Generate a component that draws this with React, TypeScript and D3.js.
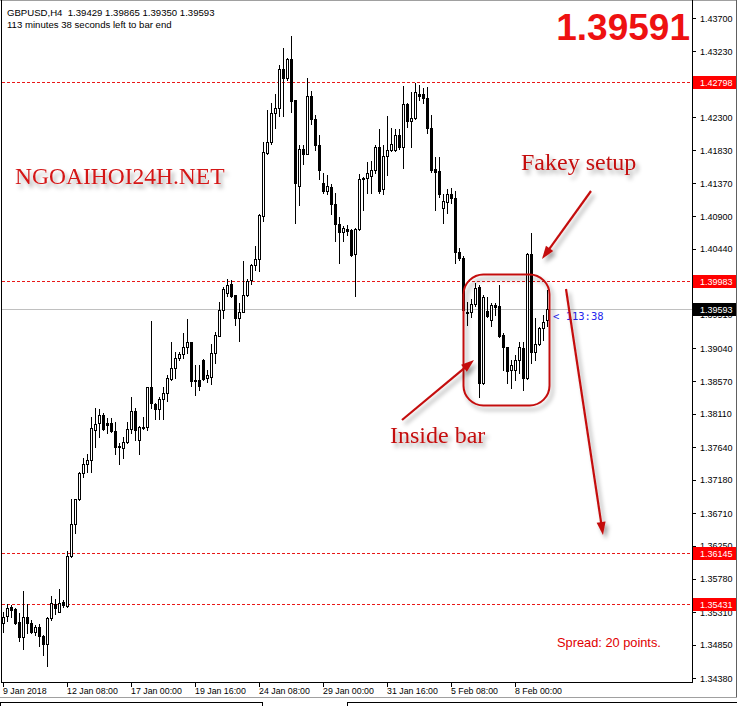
import React from 'react';
import * as d3 from 'd3';

const opens = [1.35162,1.35256,1.35383,1.35355,1.35167,1.34964,1.35238,1.35153,1.35035,1.35105,1.34978,1.34857,1.35224,1.35421,1.35317,1.35449,1.35401,1.36104,1.36551,1.36914,1.37272,1.37399,1.3746,1.37887,1.37977,1.38094,1.37986,1.37977,1.37869,1.37657,1.37624,1.37718,1.37892,1.38151,1.37742,1.37925,1.37925,1.38485,1.38249,1.38175,1.3832,1.38409,1.38604,1.38755,1.38896,1.38957,1.39051,1.39122,1.3859,1.3859,1.38872,1.38614,1.38636,1.38966,1.39215,1.39577,1.39823,1.39941,1.39791,1.3946,1.39545,1.39787,1.40002,1.40214,1.40298,1.40909,1.41799,1.41946,1.42355,1.42425,1.42977,1.42859,1.43118,1.42542,1.41334,1.41851,1.4178,1.42601,1.4227,1.41908,1.41368,1.41262,1.41311,1.41074,1.40792,1.40675,1.40716,1.40707,1.40364,1.40716,1.41444,1.41435,1.41472,1.41555,1.41876,1.41281,1.41752,1.41837,1.41837,1.42049,1.41884,1.42486,1.4225,1.42283,1.42629,1.42629,1.42568,1.42143,1.41564,1.41545,1.41013,1.41106,1.41211,1.41154,1.40397,1.40308,1.39553,1.39545,1.39661,1.39896,1.38552,1.39563,1.39436,1.39647,1.39633,1.39224,1.39051,1.38731,1.38731,1.38872,1.39037,1.3862,1.40369,1.38989,1.39098,1.39317,1.39429];
const highs = [1.35317,1.35425,1.35411,1.35369,1.35294,1.35615,1.35425,1.352,1.35129,1.35143,1.34988,1.35238,1.3554,1.35494,1.35635,1.35482,1.36179,1.3691,1.36896,1.37286,1.37483,1.37544,1.3807,1.38189,1.38175,1.38118,1.38049,1.38049,1.37991,1.37699,1.37784,1.38,1.38344,1.38189,1.37939,1.38063,1.38485,1.39426,1.38259,1.38352,1.38485,1.3866,1.39122,1.38989,1.38989,1.39248,1.3945,1.39131,1.38801,1.38801,1.38882,1.38731,1.39098,1.39271,1.39694,1.39908,1.40012,1.40002,1.39791,1.39671,1.40274,1.40012,1.40228,1.40481,1.40933,1.4195,1.42401,1.42496,1.42625,1.43038,1.43273,1.43132,1.43447,1.42542,1.41908,1.41908,1.4285,1.42672,1.42331,1.42049,1.41509,1.41487,1.41358,1.41226,1.40894,1.40764,1.40778,1.40716,1.4073,1.41499,1.41454,1.41669,1.41683,1.41908,1.42129,1.41908,1.42316,1.4215,1.42129,1.42129,1.42742,1.42504,1.42662,1.4278,1.42756,1.42709,1.42723,1.42331,1.41741,1.41741,1.41215,1.41283,1.41306,1.41263,1.40453,1.40341,1.39694,1.39728,1.39953,1.39932,1.39791,1.39767,1.39671,1.39671,1.39932,1.39248,1.3906,1.38872,1.38943,1.39127,1.39127,1.40379,1.40669,1.3946,1.39341,1.39506,1.39865];
const lows = [1.35035,1.3519,1.35246,1.35143,1.34908,1.34795,1.35012,1.35012,1.34988,1.34837,1.34706,1.34555,1.352,1.3528,1.35308,1.35379,1.35387,1.36086,1.36433,1.36894,1.37224,1.37291,1.37295,1.37647,1.3778,1.37883,1.37836,1.37859,1.37544,1.37399,1.37483,1.37704,1.37845,1.37742,1.3754,1.37892,1.37883,1.38197,1.38034,1.38038,1.38038,1.38292,1.3859,1.38614,1.38872,1.38905,1.38966,1.38505,1.38378,1.38449,1.3859,1.38566,1.38526,1.38834,1.39215,1.39468,1.39776,1.39767,1.39365,1.39144,1.39545,1.39776,1.39941,1.40139,1.40133,1.40838,1.4178,1.41918,1.42143,1.42316,1.42316,1.42826,1.42377,1.4081,1.41059,1.41636,1.4178,1.42199,1.41837,1.41428,1.41226,1.4122,1.40928,1.40556,1.40237,1.40556,1.40637,1.40341,1.3978,1.40706,1.40989,1.41226,1.41226,1.41509,1.41234,1.4122,1.41487,1.41827,1.41827,1.41846,1.41578,1.42165,1.41884,1.4227,1.42542,1.42496,1.42073,1.41531,1.40989,1.41177,1.4081,1.40949,1.41083,1.40237,1.40284,1.39535,1.39365,1.39484,1.3964,1.38348,1.38526,1.39484,1.39351,1.39506,1.39198,1.38731,1.38548,1.38475,1.3859,1.38684,1.38449,1.386,1.38834,1.38872,1.39084,1.39154,1.3935];
const closes = [1.35246,1.35373,1.35345,1.35162,1.34964,1.35238,1.35153,1.35035,1.35105,1.34978,1.34857,1.35224,1.35435,1.35365,1.35444,1.35407,1.36104,1.36555,1.3691,1.37272,1.37399,1.3746,1.37907,1.37967,1.38094,1.37892,1.37957,1.37869,1.37647,1.37639,1.37718,1.37892,1.38151,1.37883,1.37929,1.37929,1.38485,1.38259,1.38175,1.3832,1.38409,1.38614,1.38755,1.38896,1.38957,1.39051,1.39122,1.38576,1.38572,1.38505,1.38604,1.3866,1.38966,1.39224,1.39577,1.39875,1.39932,1.39776,1.3946,1.39545,1.39791,1.39988,1.40214,1.40298,1.40918,1.41805,1.41946,1.42355,1.42425,1.42977,1.42859,1.43118,1.42532,1.41368,1.41851,1.4178,1.42601,1.4227,1.41908,1.41555,1.41262,1.4133,1.41069,1.40787,1.40675,1.4073,1.40697,1.40355,1.40716,1.4143,1.4142,1.41505,1.41555,1.41884,1.41262,1.41752,1.41837,1.41922,1.42049,1.41884,1.42486,1.4225,1.42283,1.42653,1.42605,1.42568,1.42143,1.41555,1.41531,1.41211,1.4112,1.41215,1.41154,1.40397,1.40308,1.39577,1.39539,1.39661,1.39882,1.38543,1.39762,1.39492,1.39647,1.39614,1.39208,1.39051,1.38717,1.38801,1.38872,1.39051,1.3862,1.40369,1.38989,1.39098,1.39317,1.39412,1.39593];

const dateLabels = ['9 Jan 2018', '12 Jan 08:00', '17 Jan 00:00', '19 Jan 16:00', '24 Jan 08:00', '29 Jan 00:00', '31 Jan 16:00', '5 Feb 08:00', '8 Feb 00:00'];
const dateBarIndex = [0, 16, 32, 48, 64, 80, 96, 112, 128];
const priceTicks = [1.437, 1.4323, 1.4277, 1.423, 1.4183, 1.4137, 1.409, 1.4044, 1.3998, 1.3951, 1.3904, 1.3857, 1.3811, 1.3764, 1.3718, 1.3671, 1.3625, 1.3578, 1.3531, 1.3485, 1.3438];
const levelLines = [1.42798, 1.39983, 1.36145, 1.35431];
const currentPrice = 1.39593;
const headerLine1 = 'GBPUSD,H4  1.39429 1.39865 1.39350 1.39593';
const headerLine2 = '113 minutes 38 seconds left to bar end';

const AXIS_FONT = "'Liberation Sans', Arial, sans-serif";
const SERIF = "'Liberation Serif', 'Times New Roman', serif";

function Arrow({ x1, y1, x2, y2, color }: { x1: number; y1: number; x2: number; y2: number; color: string }) {
  const dx = x2 - x1, dy = y2 - y1;
  const len = Math.sqrt(dx * dx + dy * dy);
  const ux = dx / len, uy = dy / len;
  const hl = 13, hw = 4.5;
  const bx = x2 - ux * hl, by = y2 - uy * hl;
  const px = -uy, py = ux;
  const head = `${x2},${y2} ${bx + px * hw},${by + py * hw} ${bx - px * hw},${by - py * hw}`;
  return (
    <g filter="url(#shadow)">
      <line x1={x1} y1={y1} x2={bx + ux * 2} y2={by + uy * 2} stroke={color} strokeWidth={2.2} />
      <polygon points={head} fill={color} />
    </g>
  );
}

export default function App() {
  const W = 737, H = 706;
  const x = d3.scaleLinear().domain([0, opens.length - 1]).range([3.5, 547.5]);
  const y = d3.scaleLinear().domain([1.3438, 1.437]).range([678, 18]);
  const py = (v: number) => Math.round(y(v));
  const red = '#ee1111';
  const dark = '#c41010';

  React.useEffect(() => {
    document.body.style.margin = '0';
  }, []);

  return (
    <svg width={W} height={H} style={{ position: 'absolute', left: 0, top: 0, background: '#fff' }} fontFamily={AXIS_FONT}>
      <defs>
        <filter id="shadow" x="-30%" y="-30%" width="170%" height="170%">
          <feDropShadow dx="3" dy="4" stdDeviation="2" floodColor="#000" floodOpacity="0.35" />
        </filter>
      </defs>
      <rect x={0} y={0} width={W} height={H} fill="#fff" />

      {levelLines.map((v, i) => (
        <line key={'lv' + i} x1={2} x2={692} y1={py(v) + 0.5} y2={py(v) + 0.5} stroke="#e81818" strokeWidth={1} strokeDasharray="3,2" />
      ))}
      <line x1={2} x2={692} y1={py(currentPrice) + 0.5} y2={py(currentPrice) + 0.5} stroke="#c0c0c0" strokeWidth={1} />

      {opens.map((o, i) => {
        const c = closes[i];
        const cx = x(i);
        const top = py(Math.max(o, c));
        const bot = py(Math.min(o, c));
        const bull = c >= o;
        return (
          <g key={'c' + i}>
            <line x1={cx} x2={cx} y1={py(highs[i])} y2={py(lows[i]) + 1} stroke="#000" strokeWidth={1} />
            {bull ? (
              <rect x={cx - 1} y={top + 0.5} width={2} height={Math.max(bot - top, 1)} fill="#fff" stroke="#000" strokeWidth={1} />
            ) : (
              <rect x={cx - 1.5} y={top} width={3} height={Math.max(bot - top, 1) + 1} fill="#000" />
            )}
          </g>
        );
      })}

      <line x1={0} x2={W} y1={0.5} y2={0.5} stroke="#a0a0a0" />
      <line x1={1.5} x2={1.5} y1={0} y2={683} stroke="#000" />
      <line x1={1} x2={693} y1={682.5} y2={682.5} stroke="#000" />
      <line x1={692.5} x2={692.5} y1={0} y2={683} stroke="#000" />
      <line x1={736.5} x2={736.5} y1={0} y2={698} stroke="#606060" />
      <line x1={0} x2={W} y1={697.5} y2={697.5} stroke="#a0a0a0" />
      <rect x={0.5} y={702.5} width={262} height={6} fill="none" stroke="#000" />
      <rect x={347.5} y={702.5} width={400} height={6} fill="none" stroke="#000" />

      {priceTicks.map((t, i) => (
        <g key={'pt' + i}>
          <line x1={692} x2={696} y1={py(t) + 0.5} y2={py(t) + 0.5} stroke="#000" />
          <text x={700} y={y(t) + 3.5} fontSize={9} fill="#000">{t.toFixed(5)}</text>
        </g>
      ))}
      {levelLines.map((v, i) => (
        <g key={'lb' + i}>
          <rect x={693} y={py(v) - 6} width={43} height={13} fill="#ff0000" />
          <text x={700} y={py(v) + 4} fontSize={9} fill="#fff">{v.toFixed(5)}</text>
        </g>
      ))}
      <rect x={693} y={py(currentPrice) - 6} width={43} height={13} fill="#000" />
      <text x={700} y={py(currentPrice) + 4} fontSize={9} fill="#fff">{currentPrice.toFixed(5)}</text>

      {dateBarIndex.map((b, i) => (
        <g key={'dt' + i}>
          <line x1={Math.floor(x(b)) + 0.5} x2={Math.floor(x(b)) + 0.5} y1={683} y2={687} stroke="#000" />
          <text x={x(b) - 0.5} y={694} fontSize={8.8} fill="#000">{dateLabels[i]}</text>
        </g>
      ))}

      <text x={7} y={16} fontSize={9.6} fill="#000">{headerLine1.replace('  ', '\u00a0\u00a0')}</text>
      <text x={7} y={28} fontSize={9.6} fill="#000">{headerLine2}</text>

      <text x={553} y={320} fontSize={10.5} fill="#2626ee" fontFamily="'DejaVu Sans Mono', monospace">{'< 113:38'}</text>

      <text x={690} y={40} textAnchor="end" fontSize={37} fontWeight="bold" fill={red} fontFamily={AXIS_FONT}>1.39591</text>

      <text x={15} y={184} fontSize={23.5} fill="#d41414" fontFamily={SERIF} filter="url(#shadow)">NGOAIHOI24H.NET</text>
      <text x={521} y={170} fontSize={24} fill={dark} fontFamily={SERIF} filter="url(#shadow)">Fakey setup</text>
      <text x={390} y={443} fontSize={24} fill={dark} fontFamily={SERIF} filter="url(#shadow)">Inside bar</text>
      <rect x={463.5} y={274.5} width={86} height={131} rx={20} ry={20} fill="none" stroke={dark} strokeWidth={2} filter="url(#shadow)" />
      <Arrow x1={591} y1={191} x2={542} y2={259} color={dark} />
      <Arrow x1={402} y1={420} x2={474} y2={360} color={dark} />
      <Arrow x1={566} y1={289} x2={603} y2={535} color={dark} />

      <text x={557} y={647} fontSize={12.8} fill="#e00000" fontFamily={AXIS_FONT}>Spread: 20 points.</text>
    </svg>
  );
}
